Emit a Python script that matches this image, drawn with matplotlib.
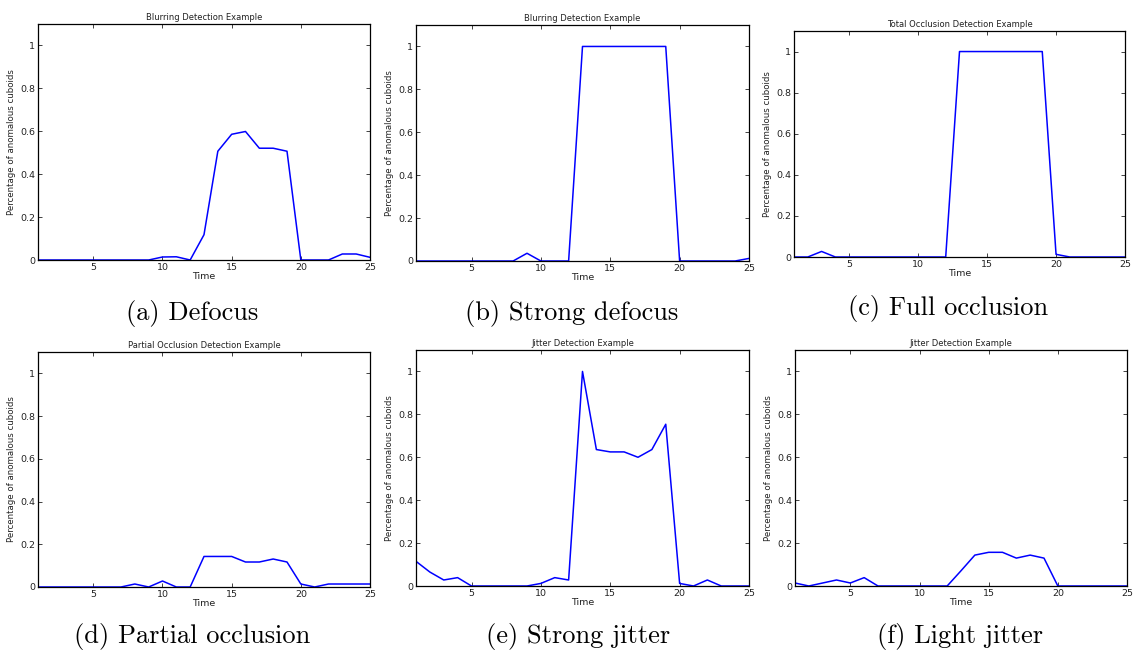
import numpy as np
import matplotlib
matplotlib.use('Agg')
import matplotlib.pyplot as plt

W, H = 1133, 653

t = np.arange(1, 26)

defocus = [0, 0, 0, 0, 0, 0, 0, 0, 0, 0.014, 0.015, 0, 0.118, 0.507, 0.586,
           0.599, 0.521, 0.521, 0.507, 0, 0, 0, 0.028, 0.028, 0.0125]
strong_defocus = [0, 0, 0, 0, 0, 0, 0, 0, 0.036, 0, 0, 0, 1, 1, 1,
                  1, 1, 1, 1, 0, 0, 0, 0, 0, 0.012]
full_occlusion = [0, 0, 0.027, 0, 0, 0, 0, 0, 0, 0, 0, 0, 1, 1, 1,
                  1, 1, 1, 1, 0.013, 0, 0, 0, 0, 0]
partial_occlusion = [0, 0, 0, 0, 0, 0, 0, 0.014, 0, 0.028, 0, 0, 0.143, 0.143, 0.143,
                     0.117, 0.117, 0.131, 0.117, 0.014, 0, 0.014, 0.014, 0.014, 0.014]
strong_jitter = [0.115, 0.065, 0.028, 0.039, 0, 0, 0, 0, 0, 0.012, 0.039, 0.028, 1.0, 0.636, 0.625,
                 0.625, 0.600, 0.636, 0.754, 0.012, 0, 0.028, 0, 0, 0]
light_jitter = [0.014, 0, 0.014, 0.028, 0.014, 0.039, 0, 0, 0, 0, 0, 0, 0.071, 0.144, 0.157,
                0.157, 0.130, 0.144, 0.130, 0, 0, 0, 0, 0, 0]

titles = ['Blurring Detection Example', 'Blurring Detection Example',
          'Total Occlusion Detection Example', 'Partial Occlusion Detection Example',
          'Jitter Detection Example', 'Jitter Detection Example']
captions = ['(a) Defocus', '(b) Strong defocus', '(c) Full occlusion',
            '(d) Partial occlusion', '(e) Strong jitter', '(f) Light jitter']
series = [defocus, strong_defocus, full_occlusion,
          partial_occlusion, strong_jitter, light_jitter]

# axes boxes in pixels: left, top, right, bottom
boxes = [(38, 24, 370, 260), (416, 25, 749, 261), (794, 31, 1125, 257),
         (38, 352, 370, 587), (416, 350, 749, 586), (795, 350, 1127, 586)]
caption_x = [192, 572, 948, 192, 578, 960]
caption_y = [313, 313, 308, 637, 637, 637]

fig = plt.figure(figsize=(W / 100, H / 100), dpi=100)

for i in range(6):
    l, tp, r, b = boxes[i]
    ax = fig.add_axes([l / W, 1 - b / H, (r - l) / W, (b - tp) / H])
    ax.plot(t, series[i], color='#0000ff', lw=1.1)
    ax.set_xlim(1, 25)
    ax.set_ylim(0, 1.1)
    ax.set_xticks([5, 10, 15, 20, 25])
    ax.set_yticks([0, 0.2, 0.4, 0.6, 0.8, 1])
    ax.set_yticklabels(['0', '0.2', '0.4', '0.6', '0.8', '1'])
    ax.tick_params(direction='in', top=True, right=True, length=3, width=0.6,
                   labelsize=6.8, pad=2, colors='#222222')
    for s in ax.spines.values():
        s.set_linewidth(0.9)
    ax.set_title(titles[i], fontsize=6, pad=3, color='#222222')
    ax.set_xlabel('Time', fontsize=6.8, labelpad=0, color='#222222')
    ax.set_ylabel('Percentage of anomalous cuboids', fontsize=6.2, labelpad=3, color='#222222')
    fig.text(caption_x[i] / W, 1 - caption_y[i] / H, captions[i],
             family=['cmr10', 'DejaVu Serif'], fontsize=19, ha='center', va='center')

fig.savefig('out.png', dpi=100)
